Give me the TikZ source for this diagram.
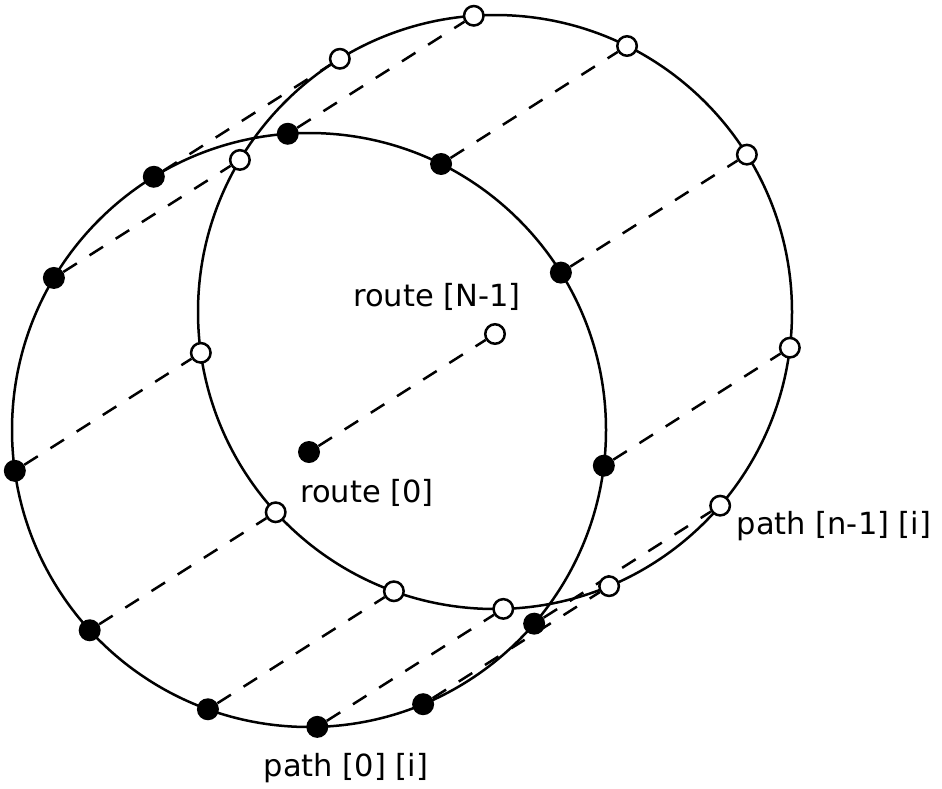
\documentclass[tikz,border=0pt]{standalone}
\usepackage{fontspec}
\setmainfont{DejaVu Sans}
\usetikzlibrary{calc}
\pgfdeclarelayer{background}
\pgfsetlayers{background,main}
\begin{document}
\begin{tikzpicture}[x=1pt,y=-1pt,
  ring/.style={line width=2.5pt},
  link/.style={line width=2.5pt, dash pattern=on 16pt off 15pt},
  bdot/.style={circle, fill=black, inner sep=0pt, minimum size=22pt},
  wdot/.style={circle, draw=black, fill=white, line width=2.5pt, inner sep=0pt, minimum size=19.5pt},
  lbl/.style={font=\fontsize{30.5}{36}\selectfont, inner sep=0pt, anchor=base}]
\useasboundingbox (0,0) rectangle (942,788);
\coordinate (F) at (309,430);
\coordinate (B) at (495,312);
\foreach \a [count=\i] in {-121.5,-149.2,172.1,137.6,109.9,88.4,67.4,40.7,6.9,-32,-63.6,-94.1} {
  \node[bdot] (b\i) at ($(F)+(\a:297)$) {};
  \node[wdot] (w\i) at ($(B)+(\a:297)$) {};
}
\node[bdot] (r0) at (309,452) {};
\node[wdot] (rN) at (495,334) {};
\begin{pgfonlayer}{background}
  \draw[ring] (F) circle [radius=297];
  \draw[ring] (B) circle [radius=297];
  \foreach \i in {1,...,12} { \draw[link] (b\i) -- (w\i); }
  \draw[link] (r0) -- (rN);
\end{pgfonlayer}
\node[lbl] (lN) at (437,306) {route [N-1]};
\node[lbl] (l0) at (367,502) {route [0]};
\node[lbl] (lp1) at (834,534) {path [n-1] [i]};
\node[lbl] (lp0) at (346,776) {path [0] [i]};
\end{tikzpicture}
\end{document}
